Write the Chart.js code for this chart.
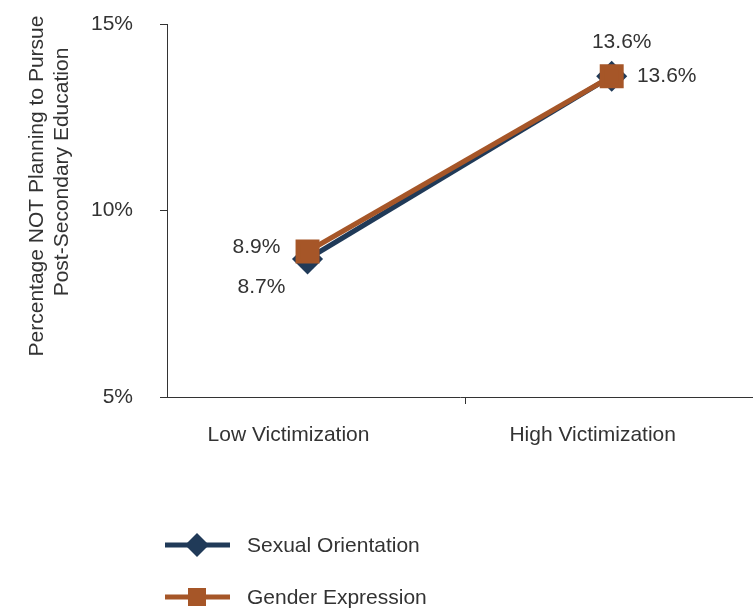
<!DOCTYPE html>
<html>
<head>
<meta charset="utf-8">
<script src="https://cdn.jsdelivr.net/npm/chart.js@4/dist/chart.umd.min.js"></script>
<style>
  html, body { margin: 0; padding: 0; background: #fff; }
  #wrap { width: 753px; height: 614px; position: relative; }
</style>
</head>
<body>
<div id="wrap"><canvas id="chart"></canvas></div>
<script>
const categories = ['Low Victimization', 'High Victimization'];
const seriesNames = ['Sexual Orientation', 'Gender Expression'];
const sexualOrientation = [8.7, 13.6];
const genderExpression = [8.9, 13.6];
const yTicks = [5, 10, 15];
const yTitle = ['Percentage NOT Planning to Pursue', 'Post-Secondary Education'];

const navy = '#203a58';
const rust = '#a65628';
const textColor = '#333333';
const fontFamily = '"Liberation Sans", Arial, sans-serif';
const fontSize = 21;

// label offsets relative to each point (dx, dy)
const labelOffsets = [
    [[-46, 28], [55, 0]],     // sexual orientation
    [[-51, -4], [10, -34]]    // gender expression
];

const toPoints = arr => arr.map((v, i) => ({ x: i, y: v }));

const extraText = {
    id: 'extraText',
    afterDraw(chart) {
        const ctx = chart.ctx;
        const xs = chart.scales.x;
        ctx.save();
        ctx.font = fontSize + 'px ' + fontFamily;
        ctx.fillStyle = textColor;
        ctx.textAlign = 'center';
        ctx.textBaseline = 'middle';

        // value labels
        chart.data.datasets.forEach((ds, i) => {
            chart.getDatasetMeta(i).data.forEach((pt, j) => {
                const off = labelOffsets[i][j];
                ctx.fillText(ds.data[j].y.toFixed(1) + '%', pt.x + off[0], pt.y + off[1]);
            });
        });

        // category labels under the axis
        categories.forEach((c, i) => {
            ctx.fillText(c, xs.getPixelForValue(i) - 19, 435);
        });

        // y axis title
        ctx.save();
        ctx.translate(37, 186);
        ctx.rotate(-Math.PI / 2);
        ctx.fillText(yTitle[0], 0, 0);
        ctx.restore();
        ctx.save();
        ctx.translate(62, 172);
        ctx.rotate(-Math.PI / 2);
        ctx.fillText(yTitle[1], 0, 0);
        ctx.restore();

        // legend
        ctx.textAlign = 'left';
        chart.data.datasets.forEach((ds, i) => {
            const y = 545 + i * 52;
            ctx.strokeStyle = ds.borderColor;
            ctx.lineWidth = 5;
            ctx.beginPath();
            ctx.moveTo(165, y);
            ctx.lineTo(230, y);
            ctx.stroke();
            ctx.fillStyle = ds.borderColor;
            if (ds.pointStyle === 'rectRot') {
                ctx.beginPath();
                ctx.moveTo(197, y - 12);
                ctx.lineTo(209, y);
                ctx.lineTo(197, y + 12);
                ctx.lineTo(185, y);
                ctx.closePath();
                ctx.fill();
            } else {
                ctx.fillRect(188, y - 9, 18, 18);
            }
            ctx.fillStyle = textColor;
            ctx.fillText(ds.label, 247, y + 1);
        });
        ctx.restore();
    }
};

new Chart(document.getElementById('chart'), {
    type: 'line',
    data: {
        datasets: [
            {
                label: seriesNames[0],
                data: toPoints(sexualOrientation),
                borderColor: navy,
                backgroundColor: navy,
                borderWidth: 5,
                pointStyle: 'rectRot',
                pointRadius: 12,
                pointHoverRadius: 12,
                order: 2
            },
            {
                label: seriesNames[1],
                data: toPoints(genderExpression),
                borderColor: rust,
                backgroundColor: rust,
                borderWidth: 5,
                pointStyle: 'rect',
                pointRadius: 13.4,
                pointHoverRadius: 13.4,
                order: 1
            }
        ]
    },
    options: {
        responsive: true,
        maintainAspectRatio: false,
        animation: false,
        layout: { autoPadding: false, padding: { top: 24, right: 0, bottom: 157, left: 0 } },
        plugins: {
            legend: { display: false },
            tooltip: { enabled: false }
        },
        scales: {
            x: {
                type: 'linear',
                min: -0.462,
                max: 1.4645,
                afterBuildTicks(scale) { scale.ticks = [{ value: 0.52 }]; },
                grid: { drawOnChartArea: false, drawTicks: true, tickLength: 7, color: textColor },
                border: { display: true, color: textColor, width: 1 },
                ticks: { display: false, callback: () => '' },
                afterFit(scale) { scale.height = 60; }
            },
            y: {
                min: 5,
                max: 15,
                afterBuildTicks(scale) { scale.ticks = yTicks.map(v => ({ value: v })); },
                grid: { drawOnChartArea: false, drawTicks: true, tickLength: 7, color: textColor },
                border: { display: true, color: textColor, width: 1 },
                ticks: {
                    color: textColor,
                    font: { family: fontFamily, size: fontSize },
                    padding: 27,
                    callback: v => v + '%'
                },
                afterFit(scale) {
                    scale.width = 167;
                    scale.paddingTop = 0;
                    scale.paddingBottom = 0;
                }
            }
        }
    },
    plugins: [extraText]
});
</script>
</body>
</html>
